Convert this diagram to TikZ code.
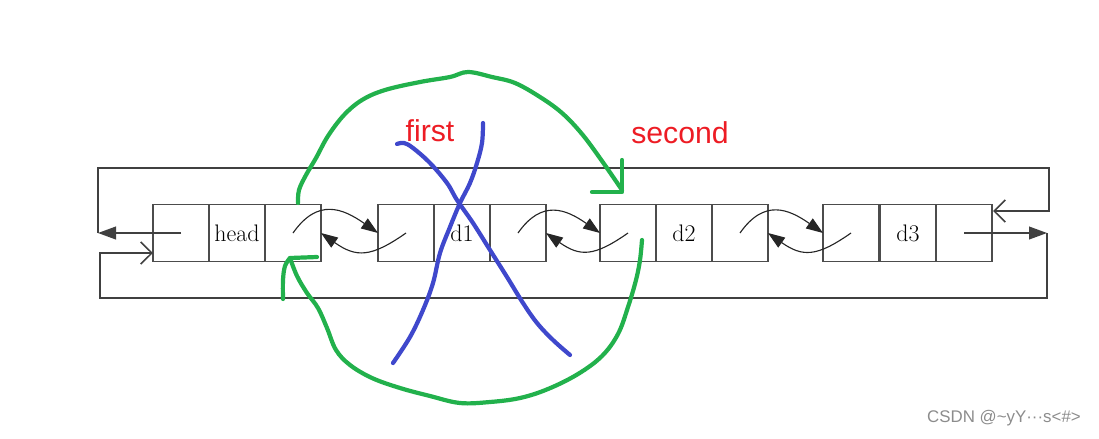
\documentclass[tikz,border=0pt]{standalone}
\usepackage{fontspec}
\usetikzlibrary{arrows.meta}
\newfontfamily\notefont{Liberation Sans}
\definecolor{penred}{RGB}{237,28,36}
\definecolor{pengreen}{RGB}{34,177,76}
\definecolor{penblue}{RGB}{63,72,204}
\begin{document}
\begin{tikzpicture}[x=0.25mm,y=-0.25mm,
  cell/.style={draw=black!70,line width=0.9pt,minimum width=14mm,minimum height=14.25mm,
    inner sep=0pt,outer sep=0pt,font=\fontsize{17}{20}\selectfont},
  wire/.style={draw=black!75,line width=1.1pt},
  link/.style={draw=black!85,line width=0.8pt,-{Triangle[length=4.2mm,width=3mm]}},
  pen/.style={line width=3pt,line cap=round,line join=round}]

\useasboundingbox (0,0) rectangle (1099,438);

% the four nodes: prev | data | next
\node [cell] (p0) at (181,233) {};
\node [cell] (v0) at (237,233) {head};
\node [cell] (n0) at (293,233) {};

\node [cell] (p1) at (406,233) {};
\node [cell] (v1) at (462,233) {d1};
\node [cell] (n1) at (518,233) {};

\node [cell] (p2) at (628,233) {};
\node [cell] (v2) at (684,233) {d2};
\node [cell] (n2) at (740,233) {};

\node [cell] (p3) at (851,233) {};
\node [cell] (v3) at (908,233) {d3};
\node [cell] (n3) at (964,233) {};

% links between neighbours
\draw [link] (n0.center) to[out=55,in=145,looseness=1.3] (p1.west);
\draw [link] (p1.center) to[out=-145,in=-35,looseness=1.3] (n0.east);
\draw [link] (n1.center) to[out=55,in=145,looseness=1.3] (p2.west);
\draw [link] (p2.center) to[out=-145,in=-35,looseness=1.3] (n1.east);
\draw [link] (n2.center) to[out=55,in=145,looseness=1.3] (p3.west);
\draw [link] (p3.center) to[out=-145,in=-35,looseness=1.3] (n2.east);

% ring round the list
\coordinate (lw) at (98,233);
\coordinate (tr) at (1049,168);
\coordinate (tin) at (993,211);
\coordinate (re) at (1047,233);
\coordinate (bl) at (100,298);
\coordinate (hin) at (153,253);

\draw [wire,-{Triangle[length=4.5mm,width=3.2mm]}] (p0.center) -- (lw);
\draw [wire,-{Straight Barb[length=2.8mm,width=5.5mm]}] (lw) |- (tr) |- (tin);
\draw [wire,-{Triangle[length=4.5mm,width=3.2mm]}] (n3.center) -- (re);
\draw [wire,-{Straight Barb[length=2.8mm,width=5.5mm]}] (re) |- (bl) |- (hin);

% hand drawn marks
\draw [pen,pengreen] plot[smooth,tension=0.6] coordinates {(298,203) (299,190) (306,175) (316,158) (328,136) (344,115) (362,100) (385,90) (420,82) (450,77) (468,72) (492,77) (515,83) (540,97) (562,113) (582,134) (602,161) (622,190)};
\draw [pen,pengreen] (622,160) -- (622,192) -- (592,192);

\draw [pen,pengreen] plot[smooth,tension=0.6] coordinates {(283,299) (283,280) (285,266) (290,258)} -- (317,257);
\draw [pen,pengreen] plot[smooth,tension=0.6] coordinates {(290,258) (297,276) (307,293) (318,308) (327,328) (336,350) (350,365) (372,378) (400,388) (430,396) (460,403) (490,402) (520,398) (548,389) (578,374) (602,356) (618,334) (628,307) (636,280) (640,260) (642,240)};

\draw [pen,penblue] plot[smooth,tension=0.6] coordinates {(397,144) (404,143) (413,148) (430,163) (447,183) (457,200) (473,223) (490,250) (507,277) (523,303) (537,323) (553,340) (570,355)};
\draw [pen,penblue] plot[smooth,tension=0.6] coordinates {(483,123) (482,143) (477,163) (470,183) (460,203) (450,227) (440,253) (433,283) (423,310) (410,337) (393,363)};

\node [text=penred,font=\notefont\fontsize{21.5}{24}\selectfont] (first) at (430,131) {first};
\node [text=penred,font=\notefont\fontsize{21.5}{24}\selectfont] (second) at (680,133) {second};

\node [text=black!45,font=\notefont\fontsize{12}{14}\selectfont] (mark) at (1004,418)
  {CSDN @\textasciitilde yY\textperiodcentered\textperiodcentered\textperiodcentered s<\#>};

\end{tikzpicture}
\end{document}
